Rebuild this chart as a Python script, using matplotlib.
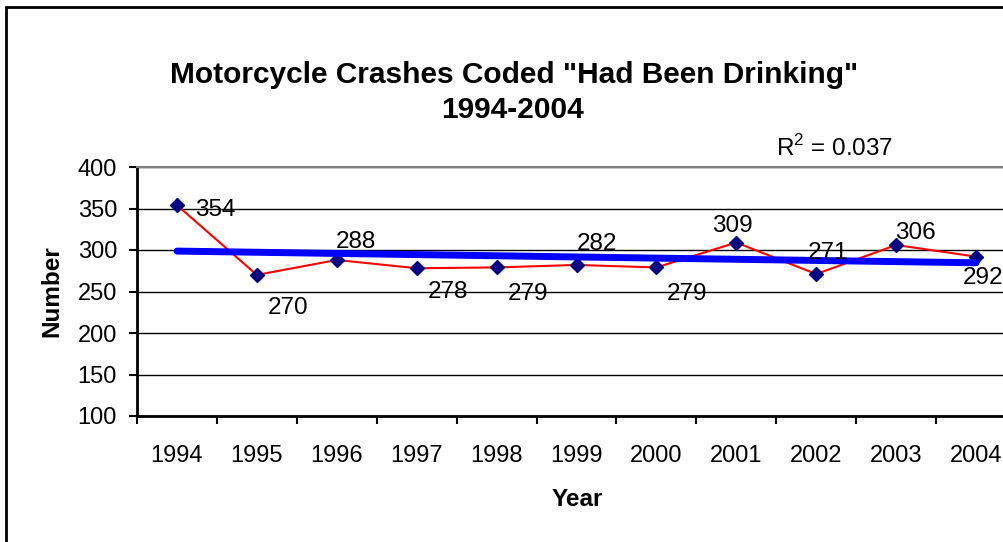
import matplotlib
matplotlib.use("Agg")
from matplotlib import pyplot as plt
from matplotlib.patches import Rectangle
import numpy as np

# Chart data
years = ["1994", "1995", "1996", "1997", "1998", "1999",
         "2000", "2001", "2002", "2003", "2004"]
crashes = [354, 270, 288, 278, 279, 282, 279, 309, 271, 306, 292]
y_ticks = [100, 150, 200, 250, 300, 350, 400]

# Label offsets in pixels (dx, dy) relative to each marker
label_offsets = [(38, -5), (31, -33), (19, 18), (31, -24), (31, -27), (20, 21),
                 (31, -27), (-4, 17), (12, 21), (19, 12), (7, -21)]

plt.rcParams["font.family"] = ["Liberation Sans", "DejaVu Sans"]
plt.rcParams["mathtext.fontset"] = "custom"
plt.rcParams["mathtext.rm"] = "Liberation Sans"

W, H = 1004, 542
fig = plt.figure(figsize=(W / 100, H / 100), dpi=100)

# outer chart border (cropped at right and bottom)
fig.patches.append(Rectangle((6 / W, -0.1), 1.2, 1.1 - 7 / H,
                             transform=fig.transFigure, fill=False,
                             edgecolor="black", linewidth=2))

left, right, top, bottom = 137, 1016, 167, 416
ax = fig.add_axes([left / W, 1 - bottom / H, (right - left) / W, (bottom - top) / H])

x = np.arange(1, len(years) + 1)

ax.set_xlim(0.5, len(years) + 0.5)
ax.set_ylim(100, 400)
ax.set_yticks(y_ticks)
ax.yaxis.grid(True, color="black", linewidth=1)
ax.set_axisbelow(True)

ax.plot(x, crashes, color="red", linewidth=1.5, zorder=3)
ax.plot(x, crashes, linestyle="none", marker="D", markersize=7,
        color="#000080", zorder=4)

# linear trendline
slope, intercept = np.polyfit(x, crashes, 1)
trend = slope * x + intercept
r2 = np.corrcoef(x, crashes)[0, 1] ** 2
ax.plot(x, trend, color="#0000FF", linewidth=5, zorder=5,
        solid_capstyle="round")

for xi, val, (dx, dy) in zip(x, crashes, label_offsets):
    ax.annotate(str(val), (xi, val), xytext=(dx, dy), textcoords="offset pixels",
                ha="center", va="center", fontsize=17.5, zorder=6)

fig.text(776 / W, 1 - 156 / H, r"R$^{2}$ = %.3f" % r2, fontsize=17.5,
         ha="left", va="baseline")

# category axis with ticks between categories
ax.set_xticks(np.arange(0.5, len(years) + 1, 1))
ax.set_xticklabels([])
ax.set_xticks(x, minor=True)
ax.set_xticklabels(years, minor=True, fontsize=17)
ax.tick_params(axis="x", which="major", length=5.8, width=1.5, direction="out")
ax.tick_params(axis="x", which="minor", length=0, pad=21)
ax.tick_params(axis="y", length=5.8, width=1.5, direction="out", labelsize=17, pad=8.6)

ax.spines["left"].set_linewidth(2)
ax.spines["bottom"].set_linewidth(2)
ax.spines["top"].set_color("#808080")
ax.spines["top"].set_linewidth(1.5)
ax.spines["right"].set_color("#808080")

fig.text(577 / W, 1 - 500 / H, "Year", fontsize=17.5, fontweight="bold",
         ha="center", va="center")
fig.text(52 / W, 1 - 291 / H, "Number", rotation=90, fontsize=17.5,
         fontweight="bold", ha="center", va="center")

fig.text(514 / W, 1 - 75 / H, 'Motorcycle Crashes Coded "Had Been Drinking"',
         fontsize=21.5, fontweight="bold", ha="center", va="center")
fig.text(513 / W, 1 - 110 / H, "1994-2004",
         fontsize=21.5, fontweight="bold", ha="center", va="center")

fig.savefig("out.png", dpi=100)
